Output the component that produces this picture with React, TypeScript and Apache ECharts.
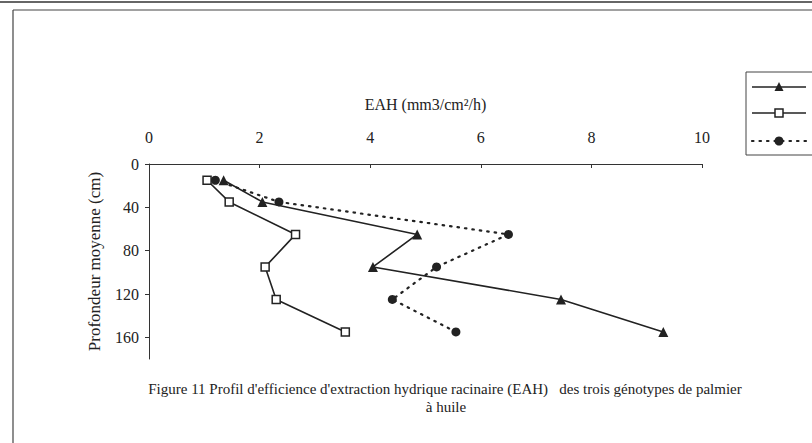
import React, { useEffect, useRef } from "react";
import * as echarts from "echarts";

const depths = [15, 35, 65, 95, 125, 155];
const genotypeA = [1.35, 2.05, 4.85, 4.05, 7.45, 9.3];
const genotypeB = [1.05, 1.45, 2.65, 2.1, 2.3, 3.55];
const genotypeC = [1.2, 2.35, 6.5, 5.2, 4.4, 5.55];
const xTicks = [0, 2, 4, 6, 8, 10];
const yTicks = [0, 40, 80, 120, 160];
const xName = "EAH (mm3/cm²/h)";
const yName = "Profondeur moyenne (cm)";
const captionLine1 =
  "Figure 11 Profil d'efficience d'extraction hydrique racinaire (EAH)   des trois génotypes de palmier";
const captionLine2 = "à huile";

const INK = "#222";
const FONT = "'Liberation Serif', 'DejaVu Serif', serif";

export default function App() {
  const ref = useRef<HTMLDivElement>(null);

  useEffect(() => {
    if (!ref.current) return;
    const chart = echarts.init(ref.current, undefined, { renderer: "svg" });
    const pairs = (xs: number[]) => xs.map((v, i) => [v, depths[i]]);

    const option: any = {
      animation: false,
      backgroundColor: "#fff",
      grid: {
        left: 149,
        top: 164,
        right: 110,
        bottom: 84,
        containLabel: false,
        outerBoundsMode: "none",
      },
      xAxis: {
        type: "value",
        position: "top",
        min: 0,
        max: 10,
        interval: 2,
        name: xName,
        nameLocation: "middle",
        nameGap: 52,
        nameTextStyle: { fontFamily: FONT, fontSize: 16, color: INK },
        axisLine: { show: true, lineStyle: { color: "#333", width: 1 } },
        axisTick: { show: true, inside: true, length: 4, lineStyle: { color: "#333" } },
        axisLabel: {
          margin: 19,
          fontFamily: FONT,
          fontSize: 16,
          color: INK,
          customValues: xTicks,
        },
        splitLine: { show: false },
      },
      yAxis: {
        type: "value",
        inverse: true,
        min: 0,
        max: 180,
        interval: 40,
        name: yName,
        nameLocation: "middle",
        nameGap: 46,
        nameRotate: 90,
        nameTextStyle: { fontFamily: FONT, fontSize: 17, color: INK },
        axisLine: { show: true, lineStyle: { color: "#333", width: 1 } },
        axisTick: {
          show: true,
          inside: false,
          length: 4,
          lineStyle: { color: "#333" },
          customValues: yTicks,
        },
        axisLabel: {
          margin: 10,
          fontFamily: FONT,
          fontSize: 16,
          color: INK,
          customValues: yTicks,
        },
        splitLine: { show: false },
      },
      series: [
        {
          name: "A",
          type: "line",
          data: pairs(genotypeA),
          symbol: "triangle",
          symbolSize: 10,
          itemStyle: { color: INK },
          lineStyle: { color: INK, width: 1.6 },
          z: 3,
        },
        {
          name: "B",
          type: "line",
          data: pairs(genotypeB),
          symbol: "rect",
          symbolSize: 8,
          itemStyle: { color: "#fff", borderColor: INK, borderWidth: 1.5 },
          lineStyle: { color: INK, width: 1.6 },
          z: 2,
        },
        {
          name: "C",
          type: "line",
          data: pairs(genotypeC),
          symbol: "circle",
          symbolSize: 9,
          itemStyle: { color: INK },
          lineStyle: { color: INK, width: 2.2, type: [1.5, 6], cap: "round" },
          z: 1,
        },
      ],
      graphic: [
        // page rules / frame
        { type: "line", shape: { x1: 0, y1: 2, x2: 812, y2: 2 }, style: { stroke: "#333", lineWidth: 1.5 } },
        { type: "line", shape: { x1: 13, y1: 10, x2: 812, y2: 10 }, style: { stroke: "#444", lineWidth: 1.2 } },
        { type: "line", shape: { x1: 13, y1: 10, x2: 13, y2: 443 }, style: { stroke: "#444", lineWidth: 1.2 } },
        // legend box (cut by page edge)
        { type: "rect", shape: { x: 746, y: 72, width: 90, height: 83 }, style: { fill: "none", stroke: "#444", lineWidth: 1 } },
        { type: "line", shape: { x1: 752, y1: 87, x2: 806, y2: 87 }, style: { stroke: INK, lineWidth: 1.6 } },
        { type: "polygon", shape: { points: [[779, 82], [774.5, 91], [783.5, 91]] }, style: { fill: INK } },
        { type: "line", shape: { x1: 752, y1: 113, x2: 806, y2: 113 }, style: { stroke: INK, lineWidth: 1.6 } },
        { type: "rect", shape: { x: 775, y: 109, width: 8, height: 8 }, style: { fill: "#fff", stroke: INK, lineWidth: 1.5 } },
        { type: "line", shape: { x1: 752, y1: 141, x2: 806, y2: 141 }, style: { stroke: INK, lineWidth: 2.2, lineDash: [1.5, 6], lineCap: "round" } },
        { type: "circle", shape: { cx: 779, cy: 141, r: 4.5 }, style: { fill: INK } },
        // caption
        {
          type: "text",
          x: 445,
          y: 389,
          style: {
            text: captionLine1,
            fontFamily: FONT,
            fontSize: 15,
            fill: INK,
            align: "center",
            verticalAlign: "middle",
          },
        },
        {
          type: "text",
          x: 446,
          y: 407,
          style: {
            text: captionLine2,
            fontFamily: FONT,
            fontSize: 15,
            fill: INK,
            align: "center",
            verticalAlign: "middle",
          },
        },
      ],
    };

    chart.setOption(option);
    return () => chart.dispose();
  }, []);

  return (
    <div
      ref={ref}
      style={{ position: "fixed", left: 0, top: 0, width: 812, height: 443, background: "#fff" }}
    />
  );
}
